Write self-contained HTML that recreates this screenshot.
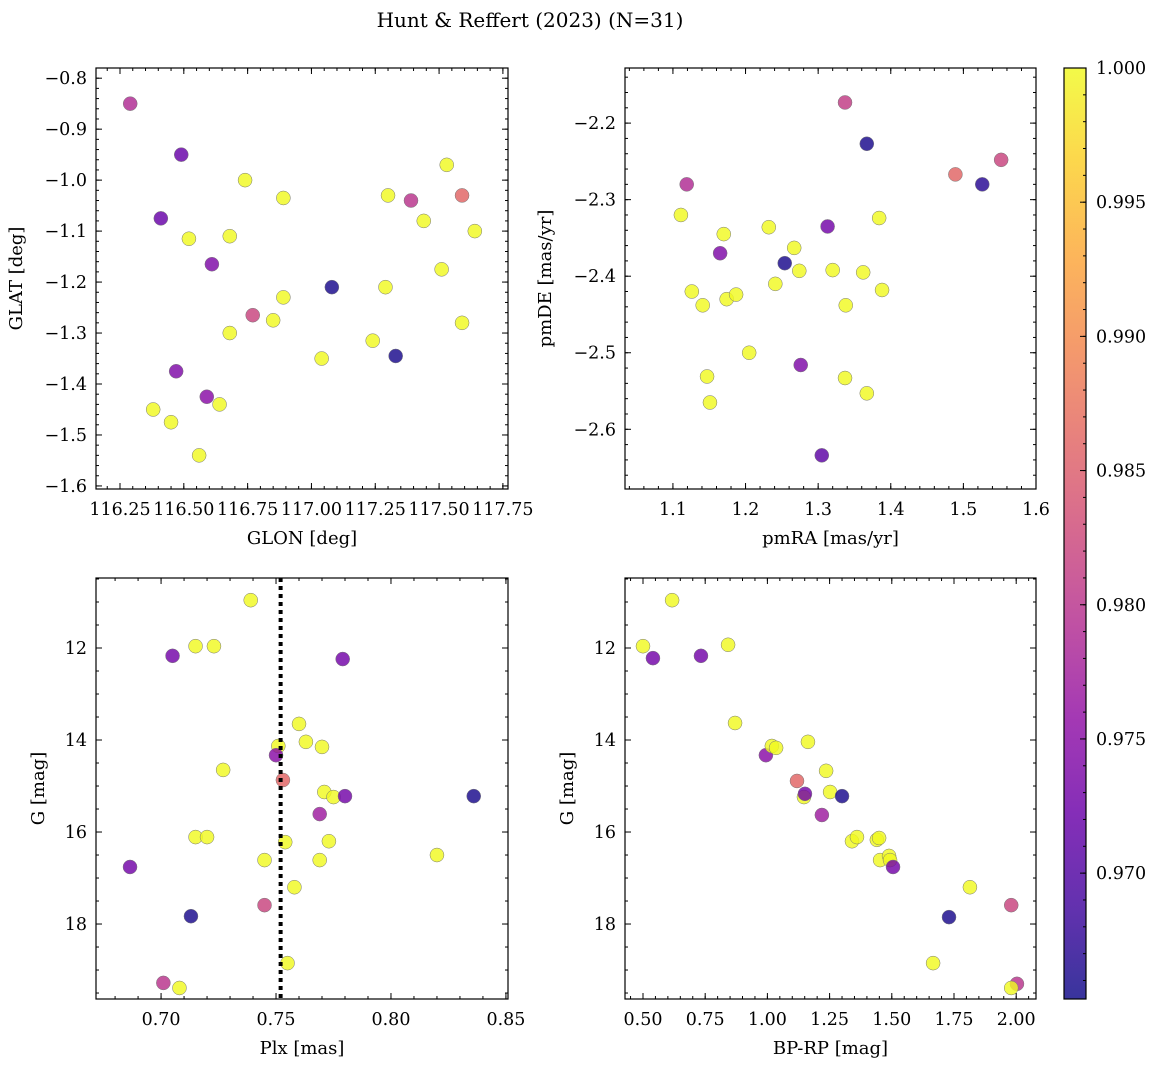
<!DOCTYPE html>
<html><head><meta charset="utf-8">
<style>
body{margin:0;background:#fff;}
svg{display:block;font-family:"DejaVu Serif","Liberation Serif",serif;}
</style></head>
<body>
<svg id="fig" width="1161" height="1067" xmlns="http://www.w3.org/2000/svg">
<rect width="1161" height="1067" fill="#fff"/>
<text x="530" y="27" font-size="20" text-anchor="middle">Hunt &amp; Reffert (2023) (N=31)</text>
</svg>
<script>
// Panel 1: GLON / GLAT
const glon = [116.29,116.49,116.41,116.74,116.89,116.52,116.68,116.61,117.08,116.89,116.77,116.85,116.68,117.04,117.24,117.33,116.47,116.59,116.64,116.38,116.45,116.56,117.30,117.39,117.44,117.53,117.59,117.64,117.51,117.29,117.59];
const glat = [-0.85,-0.95,-1.075,-1.00,-1.035,-1.115,-1.11,-1.165,-1.21,-1.23,-1.265,-1.275,-1.30,-1.35,-1.315,-1.345,-1.375,-1.425,-1.44,-1.45,-1.475,-1.54,-1.03,-1.04,-1.08,-0.97,-1.03,-1.10,-1.175,-1.21,-1.28];
const prob1 = [0.979,0.972,0.972,1,1,1,1,0.974,0.966,1,0.982,1,1,1,1,0.966,0.974,0.975,1,1,1,1,1,0.980,1,1,0.986,1,1,1,1];
// Panel 2: pmRA / pmDE
const pmra = [1.119,1.111,1.170,1.165,1.126,1.141,1.174,1.187,1.205,1.147,1.151,1.232,1.241,1.254,1.267,1.274,1.276,1.305,1.313,1.320,1.337,1.337,1.338,1.362,1.367,1.367,1.384,1.388,1.489,1.552,1.526];
const pmde = [-2.28,-2.32,-2.345,-2.37,-2.42,-2.438,-2.43,-2.424,-2.50,-2.531,-2.565,-2.336,-2.41,-2.383,-2.363,-2.393,-2.516,-2.634,-2.335,-2.392,-2.173,-2.533,-2.438,-2.395,-2.227,-2.553,-2.324,-2.418,-2.267,-2.248,-2.28];
const prob2 = [0.979,1,1,0.974,1,1,1,1,1,1,1,1,1,0.966,1,1,0.974,0.971,0.973,1,0.981,1,1,1,0.966,1,1,1,0.986,0.982,0.967];
// Panel 3: Plx / G
const plx = [0.739,0.715,0.723,0.705,0.779,0.760,0.751,0.763,0.770,0.750,0.727,0.753,0.771,0.775,0.780,0.836,0.769,0.715,0.720,0.754,0.773,0.745,0.769,0.820,0.6865,0.758,0.745,0.713,0.755,0.701,0.708];
const g3 = [10.96,11.96,11.96,12.17,12.24,13.65,14.13,14.04,14.15,14.33,14.65,14.87,15.13,15.24,15.22,15.22,15.61,16.11,16.11,16.22,16.20,16.61,16.61,16.50,16.76,17.20,17.59,17.83,18.85,19.28,19.39];
const prob3 = [1,1,1,0.973,0.973,1,1,1,1,0.975,1,0.986,1,1,0.973,0.966,0.977,1,1,1,1,1,1,1,0.973,1,0.982,0.966,1,0.980,1];
const plxLine = 0.752;
// Panel 4: BP-RP / G
const bprp = [0.617,0.50,0.540,0.733,0.842,0.870,1.163,0.994,1.018,1.035,1.236,1.119,1.147,1.151,1.252,1.30,1.219,1.34,1.36,1.44,1.449,1.453,1.489,1.493,1.505,1.814,1.73,1.98,1.666,2.003,1.98];
const g4 = [10.96,11.96,12.22,12.17,11.93,13.63,14.04,14.33,14.13,14.17,14.67,14.89,15.24,15.17,15.13,15.22,15.63,16.20,16.11,16.17,16.13,16.61,16.52,16.61,16.76,17.20,17.85,17.59,18.85,19.30,19.39];
const prob4 = [1,1,0.973,0.973,1,1,1,0.975,1,1,1,0.986,1,0.973,1,0.966,0.977,1,1,1,1,1,1,1,0.973,1,0.966,0.982,1,0.980,1];
// tick labels
const xt1 = [116.25,116.5,116.75,117.0,117.25,117.5,117.75];
const yt1 = [-0.8,-0.9,-1.0,-1.1,-1.2,-1.3,-1.4,-1.5,-1.6];
const xt2 = [1.1,1.2,1.3,1.4,1.5,1.6];
const yt2 = [-2.2,-2.3,-2.4,-2.5,-2.6];
const xt3 = [0.70,0.75,0.80,0.85];
const yt34 = [12,14,16,18];
const xt4 = [0.50,0.75,1.00,1.25,1.50,1.75,2.00];
const cbt = [0.970,0.975,0.980,0.985,0.990,0.995,1.000];
const cmin = 0.96531, cmax = 1.0;

const NS = "http://www.w3.org/2000/svg";
const fig = document.getElementById('fig');
const TFS = 17.5, LFS = 18;
function mk(tag, attrs, parent){const e=document.createElementNS(NS,tag);for(const k in attrs)e.setAttribute(k,attrs[k]);(parent||fig).appendChild(e);return e;}
const stops=["#0d0887","#41049d","#6a00a8","#8f0da4","#b12a90","#cc4778","#e16462","#f2844b","#fca636","#fcce25","#f0f921"];
function hx(c){return [1,3,5].map(i=>parseInt(c.substr(i,2),16));}
function plasma(t){t=Math.max(0,Math.min(1,t));const f=t*10,i=Math.min(9,Math.floor(f)),r=f-i;const a=hx(stops[i]),b=hx(stops[i+1]);return "rgb("+a.map((v,k)=>Math.round(v+(b[k]-v)*r)).join(",")+")";}
function col(p){return plasma((p-cmin)/(cmax-cmin));}

function panel(o){
  const {x0,x1,y0,y1,xmin,xmax,ymin,ymax,xs,ys,ps,xt,yt,xmin_step,ymin_step,xfmt,yfmt,xlabel,ylabel,name}=o;
  const sx=v=>x0+(v-xmin)/(xmax-xmin)*(x1-x0);
  const sy=v=>y1-(v-ymin)/(ymax-ymin)*(y1-y0);
  const g=mk('g',{});
  
  
  for(let i=0;i<xs.length;i++){
    const c=mk('circle',{cx:sx(xs[i]),cy:sy(ys[i]),r:7,fill:col(ps[i]),'fill-opacity':0.82,stroke:'#777','stroke-width':0.5},g);
    
    
  }
  if(o.vline!==undefined){
    const l=mk('line',{x1:sx(o.vline),x2:sx(o.vline),y1:y0,y2:y1,stroke:'#000','stroke-width':4,'stroke-dasharray':'4,4'},g);
    
    
  }
  const tg=mk('g',{stroke:'#000','stroke-width':1},g);
  const lo=Math.min(xmin,xmax),hi=Math.max(xmin,xmax);
  for(let k=Math.ceil(lo/xmin_step-1e-6);k*xmin_step<=hi+1e-9;k++){const v=k*xmin_step,px=sx(v);mk('line',{x1:px,x2:px,y1:y1,y2:y1-3},tg);mk('line',{x1:px,x2:px,y1:y0,y2:y0+3},tg);}
  const ylo=Math.min(ymin,ymax),yhi=Math.max(ymin,ymax);
  for(let k=Math.ceil(ylo/ymin_step-1e-6);k*ymin_step<=yhi+1e-9;k++){const v=k*ymin_step,py=sy(v);mk('line',{x1:x0,x2:x0+3,y1:py,y2:py},tg);mk('line',{x1:x1,x2:x1-3,y1:py,y2:py},tg);}
  xt.forEach(v=>{const px=sx(v);mk('line',{x1:px,x2:px,y1:y1,y2:y1-6},tg);mk('line',{x1:px,x2:px,y1:y0,y2:y0+6},tg);
    const t=mk('text',{x:px,y:y1+26,'font-size':TFS,'text-anchor':'middle'},g);t.textContent=xfmt(v);
    
    });
  yt.forEach(v=>{const py=sy(v);mk('line',{x1:x0,x2:x0+6,y1:py,y2:py},tg);mk('line',{x1:x1,x2:x1-6,y1:py,y2:py},tg);
    const t=mk('text',{x:x0-9,y:py+6,'font-size':TFS,'text-anchor':'end'},g);t.textContent=yfmt(v);
    
    });
  mk('rect',{x:x0,y:y0,width:x1-x0,height:y1-y0,fill:'none',stroke:'#000','stroke-width':1.2},g);
  const xl=mk('text',{x:(x0+x1)/2,y:y1+55,'font-size':LFS,'text-anchor':'middle'},g);xl.textContent=xlabel;
  
  
  const yx=o.ylx, yy=(y0+y1)/2;
  const yl=mk('text',{x:yx,y:yy,'font-size':LFS,'text-anchor':'middle',transform:`rotate(-90 ${yx} ${yy})`},g);yl.textContent=ylabel;
  
  
}
const neg1=v=>(v<0?"\u2212":"")+Math.abs(v).toFixed(1);
panel({name:'glon-glat-panel',x0:96,x1:508,y0:68,y1:489,xmin:116.156,xmax:117.770,ymin:-1.606,ymax:-0.780,xs:glon,ys:glat,ps:prob1,xt:xt1,yt:yt1,xmin_step:0.05,ymin_step:0.02,
  xfmt:v=>v.toFixed(2),yfmt:neg1,xlabel:'GLON [deg]',ylabel:'GLAT [deg]',ylx:22});
panel({name:'pm-panel',x0:625,x1:1036,y0:68,y1:489,xmin:1.034,xmax:1.6,ymin:-2.678,ymax:-2.128,xs:pmra,ys:pmde,ps:prob2,xt:xt2,yt:yt2,xmin_step:0.02,ymin_step:0.02,
  xfmt:v=>v.toFixed(1),yfmt:neg1,xlabel:'pmRA [mas/yr]',ylabel:'pmDE [mas/yr]',ylx:551});
panel({name:'plx-g-panel',x0:96,x1:508,y0:578,y1:999,xmin:0.6717,xmax:0.8509,ymin:19.63,ymax:10.478,xs:plx,ys:g3,ps:prob3,xt:xt3,yt:yt34,xmin_step:0.01,ymin_step:0.5,
  xfmt:v=>v.toFixed(2),yfmt:v=>String(v),xlabel:'Plx [mas]',ylabel:'G [mag]',ylx:44,vline:plxLine});
panel({name:'cmd-panel',x0:625,x1:1036,y0:578,y1:999,xmin:0.4277,xmax:2.0796,ymin:19.63,ymax:10.478,xs:bprp,ys:g4,ps:prob4,xt:xt4,yt:yt34,xmin_step:0.05,ymin_step:0.5,
  xfmt:v=>v.toFixed(2),yfmt:v=>String(v),xlabel:'BP-RP [mag]',ylabel:'G [mag]',ylx:573});

const cb=mk('g',{});


const defs=mk('defs',{},cb);
const lg=mk('linearGradient',{id:'cbg',x1:0,y1:1,x2:0,y2:0},defs);
for(let i=0;i<=20;i++){const c=plasma(i/20);mk('stop',{offset:(i/20),'stop-color':c},lg);}
const cy0=68,cy1=999,cx0=1064,cx1=1086;
mk('rect',{x:cx0,y:cy0,width:cx1-cx0,height:cy1-cy0,fill:'url(#cbg)','fill-opacity':0.82},cb);
mk('rect',{x:cx0,y:cy0,width:cx1-cx0,height:cy1-cy0,fill:'none',stroke:'#000','stroke-width':1.2},cb);
const csy=v=>cy1-(v-cmin)/(cmax-cmin)*(cy1-cy0);
for(let k=Math.ceil(cmin/0.001);k<=1000;k++){const py=csy(k*0.001);mk('line',{x1:cx1,x2:cx1-3,y1:py,y2:py,stroke:'#000'},cb);}
cbt.forEach(v=>{const py=csy(v);mk('line',{x1:cx1,x2:cx1-6,y1:py,y2:py,stroke:'#000'},cb);
  const t=mk('text',{x:cx1+10,y:py+6,'font-size':TFS},cb);t.textContent=v.toFixed(3);
  
  });
</script>
</body></html>
